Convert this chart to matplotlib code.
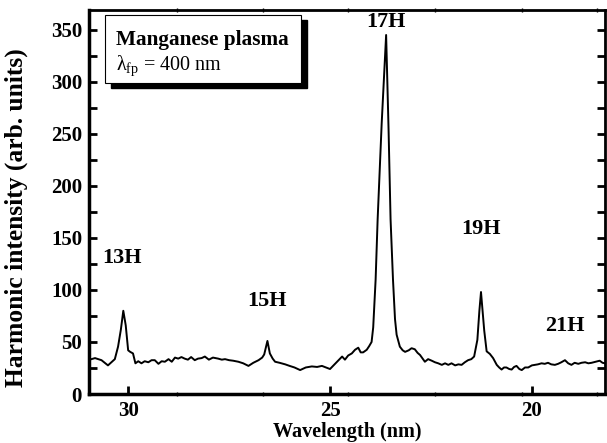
import matplotlib
matplotlib.use("Agg")
import matplotlib.pyplot as plt
from matplotlib.patches import Rectangle
from matplotlib.ticker import FixedLocator, MultipleLocator

plt.rcParams['font.family'] = ['Liberation Serif', 'DejaVu Serif']
plt.rcParams['mathtext.fontset'] = 'custom'
plt.rcParams['mathtext.rm'] = 'Liberation Serif'
plt.rcParams['mathtext.it'] = 'Liberation Serif:italic'
plt.rcParams['mathtext.bf'] = 'Liberation Serif:bold'

# spectrum
wavelength = [31.0, 30.82, 30.66, 30.5, 30.33, 30.25, 30.18, 30.12, 30.06, 30.0, 29.95,
              29.88, 29.82, 29.75, 29.67, 29.59, 29.5, 29.42, 29.34, 29.25, 29.17, 29.09,
              29.0, 28.92, 28.84, 28.76, 28.68, 28.6, 28.52, 28.44, 28.35, 28.27, 28.18,
              28.1, 28.0, 27.9, 27.77, 27.68, 27.6, 27.5, 27.4, 27.27, 27.15, 27.02,
              26.9, 26.77, 26.68, 26.63, 26.55, 26.49, 26.42, 26.36, 26.25, 26.11, 26.0,
              25.88, 25.74, 25.6, 25.45, 25.32, 25.2, 25.1, 25.0, 24.9, 24.79, 24.7,
              24.63, 24.55, 24.46, 24.38, 24.3, 24.24, 24.18, 24.09, 24.03, 23.97, 23.93,
              23.87, 23.82, 23.72, 23.61, 23.55, 23.5, 23.44, 23.39, 23.35, 23.27, 23.2,
              23.14, 23.05, 22.98, 22.9, 22.83, 22.77, 22.65, 22.57, 22.48, 22.4, 22.32,
              22.23, 22.15, 22.07, 21.99, 21.9, 21.82, 21.74, 21.66, 21.58, 21.5, 21.43,
              21.35, 21.3, 21.26, 21.22, 21.18, 21.12, 21.04, 20.96, 20.87, 20.81, 20.75,
              20.69, 20.63, 20.56, 20.5, 20.44, 20.38, 20.31, 20.25, 20.17, 20.09, 20.0,
              19.93, 19.85, 19.76, 19.68, 19.6, 19.52, 19.43, 19.35, 19.27, 19.18, 19.1,
              19.02, 18.94, 18.85, 18.77, 18.68, 18.6, 18.52, 18.42, 18.32, 18.25, 18.19]
intensity = [32.5, 34.5, 32.5, 27.5, 33.5, 45.5, 62, 80, 66, 42, 40.5,
             39, 29.5, 31.5, 29.5, 31.5, 30.5, 32.5, 32.5, 29, 31.5, 31,
             33.5, 31, 35, 34, 35.5, 34, 33, 35.5, 32.5, 34, 34.5, 36, 33, 35, 34,
             33, 33.5, 32.5, 32, 31, 29.5, 27, 30, 32.5, 35, 38, 51, 39, 34, 31,
             30, 28.5, 27, 25.5, 23, 25.5, 26.5, 26, 27, 25.5, 24, 28, 32.5, 36,
             33, 37, 39, 42.5, 44.5, 40, 40, 42.5, 46, 50, 64,
             110, 168, 260, 345, 255, 168, 110, 72, 57, 45.5, 42,
             40.5, 42, 44, 43, 39.5, 37.5, 31, 33.5, 32, 30.5, 29.5,
             28, 29.5, 28, 29.5, 27.5, 28.5, 28, 30.5, 32.5, 33.5, 36,
             52, 80, 98, 80, 61, 41, 38.5, 34.5, 28, 25.5, 23.5,
             25.5, 25.5, 24, 23.5, 26, 27, 24, 23, 25.5, 25.5, 27.5,
             28, 28.5, 29.5, 29, 30, 28.5, 28, 29, 30.5, 32.5, 29.5,
             28, 30, 29, 30, 30.5, 29.5, 30, 31, 32, 30, 29.5]

peak_labels = ['13H', '15H', '17H', '19H', '21H']
label_x = [30.15, 26.55, 23.61, 21.27, 19.18]
label_y = [131, 89, 357, 159, 65]

major_x = [30, 25, 20]
small_x = [28.79, 26.66, 24.55, 22.40, 20.25, 18.39]

fig = plt.figure(figsize=(6.07, 4.43), dpi=100)
ax = fig.add_axes([0.1466, 0.1106, 0.85, 0.8668])

ax.plot(wavelength, intensity, color='black', lw=1.4)

ax.set_xlim(30.97, 18.19)
ax.set_ylim(0, 369)

ax.xaxis.set_major_locator(FixedLocator(major_x))
ax.xaxis.set_minor_locator(FixedLocator(small_x))
ax.yaxis.set_major_locator(MultipleLocator(50))
ax.yaxis.set_minor_locator(MultipleLocator(25))

ax.tick_params(axis='x', which='major', direction='in', length=6, width=2,
               bottom=True, top=False, labelsize=15, pad=5)
ax.tick_params(axis='x', which='minor', direction='inout', length=3, width=1,
               bottom=True, top=True)
ax.tick_params(axis='y', which='both', direction='in', length=6, width=2,
               left=True, right=True, labelsize=15, pad=5)
for lab in ax.get_xticklabels() + ax.get_yticklabels():
    lab.set_fontweight('bold')

for side in ['left', 'bottom']:
    ax.spines[side].set_linewidth(2.5)
for side in ['top', 'right']:
    ax.spines[side].set_linewidth(2)

ax.set_xlabel('Wavelength (nm)', fontsize=14.5, fontweight='bold', labelpad=1)
ax.set_ylabel('Harmonic intensity (arb. units)', fontsize=18.4, fontweight='bold')
ax.yaxis.set_label_coords(-0.118, 0.46)

for t, x, y in zip(peak_labels, label_x, label_y):
    ax.text(x, y, t, fontsize=16, fontweight='bold', ha='center', va='center')

# legend-like box with shadow
ax.add_patch(Rectangle((0.043, 0.797), 0.38, 0.178, transform=ax.transAxes,
                       facecolor='black', edgecolor='black', zorder=4))
ax.add_patch(Rectangle((0.031, 0.81), 0.38, 0.177, transform=ax.transAxes,
                       facecolor='white', edgecolor='black', lw=0.8, zorder=5))
ax.text(0.053, 0.91, 'Manganese plasma', transform=ax.transAxes, fontsize=15.3,
        fontweight='bold', va='baseline', zorder=6)
ax.text(0.052, 0.845, r'λ$_{\mathrm{fp}}$ = 400 nm', transform=ax.transAxes,
        fontsize=14.5, va='baseline', zorder=6)

fig.savefig('out.png', dpi=100)
